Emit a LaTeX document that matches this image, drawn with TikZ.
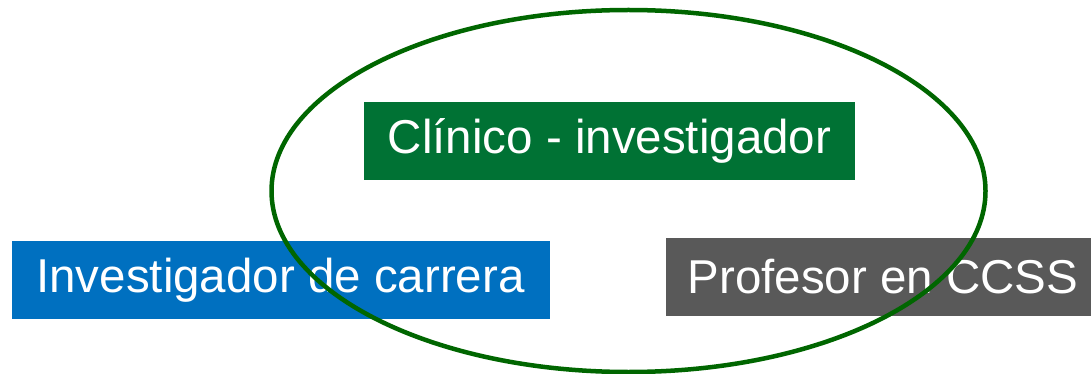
\documentclass[tikz,border=0pt]{standalone}
\usepackage{fontspec}
\setmainfont{Liberation Sans}
\usepackage{tikz}
\definecolor{blueBox}{RGB}{0,112,192}
\definecolor{greenBox}{RGB}{0,114,52}
\definecolor{grayBox}{RGB}{89,89,89}
\definecolor{ringGreen}{RGB}{0,102,0}

\begin{document}
\begin{tikzpicture}[x=1pt,y=-1pt,role box/.style={rectangle,inner sep=0pt,minimum height=78pt,text=white,font=\fontsize{47.5}{56}\selectfont}]

\useasboundingbox (0,0) rectangle (1091,374);

\node at (280.5,280) [role box,fill=blueBox,minimum width=538pt] (I) {Investigador de carrera};
\node at (609.5,141) [role box,fill=greenBox,minimum width=491pt] (C) {Clínico - investigador};
\node at (883,277) [role box,fill=grayBox,minimum width=434pt] (P) {Profesor en CCSS};

\draw[ringGreen,line width=4.5pt] (628.5,191) ellipse [x radius=357, y radius=181];

\end{tikzpicture}
\end{document}
